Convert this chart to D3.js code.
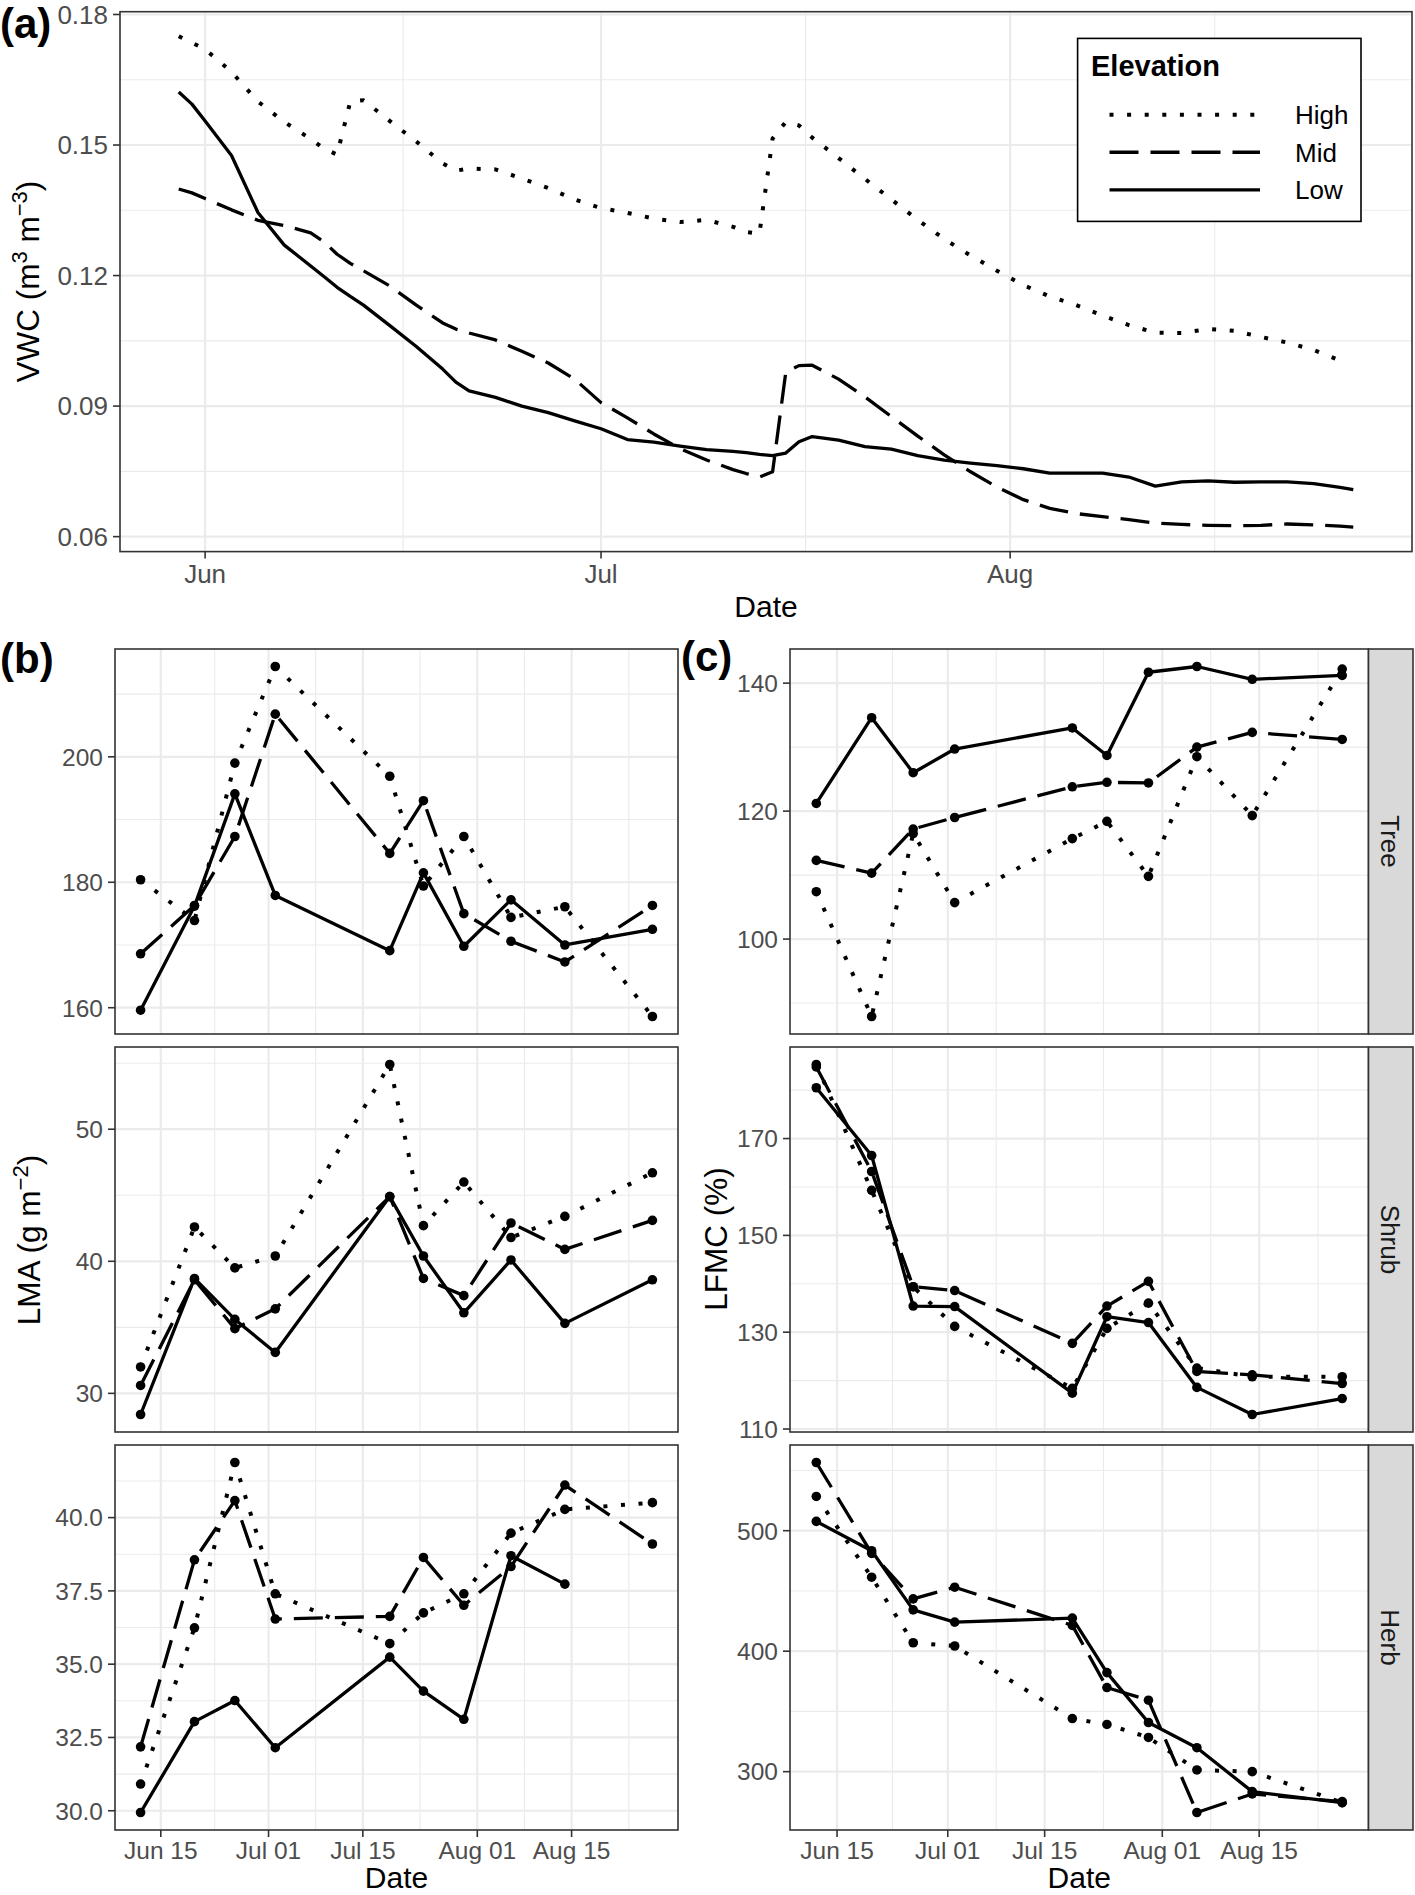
<!DOCTYPE html>
<html>
<head>
<meta charset="utf-8">
<script src="https://cdn.jsdelivr.net/npm/d3@7"></script>
<style>
  body { margin: 0; background: #fff; }
  text { font-family: "Liberation Sans", Arial, Helvetica, sans-serif; }
</style>
</head>
<body>
<svg id="chart"></svg>
<script>
// ---- data: (a) soil volumetric water content, days counted from vwcStart
var vwcStart = "2019-06-01";
var vwcDay = [-2,-1,0,2,4,6,8,9,10,11,12,14,16,18,19,20,22,24,26,28,30,32,34,36,38,40,41,42,43,44,45,46,
              48,50,52,54,56,58,60,62,64,66,68,70,72,74,76,78,80,82,84,86,87];
var vwcHigh = [0.1750,0.1735,0.1720,0.1668,0.1600,0.1553,0.1514,0.1492,0.1478,0.1600,0.1603,
               0.1555,0.1508,0.1458,0.1441,0.1446,
               0.1444,0.1423,0.1401,0.1375,0.1355,0.1344,0.1331,0.1323,0.1328,0.1312,
               0.1300,0.1296,0.1515,0.1553,0.1545,0.1517,
               0.1470,0.1422,0.1375,0.1328,0.1284,0.1246,0.1211,
               0.1178,0.1152,0.1132,0.1108,0.1086,0.1069,0.1068,0.1077,0.1073,0.1059,0.1046,0.1029,0.1005,
               null];
var vwcMid = [0.1399,0.1390,0.1377,0.1351,0.1327,0.1315,0.1298,0.1278,0.1249,0.1228,0.1211,
              0.1176,0.1132,0.1091,0.1077,0.1068,
              0.1052,0.1026,0.0999,0.0962,0.0908,0.0873,0.0836,0.0802,0.0776,0.0754,
              0.0745,0.0737,0.0749,0.0978,0.0993,0.0994,
              0.0962,0.0921,0.0876,0.0831,0.0788,0.0749,0.0714,
              0.0685,0.0665,0.0653,0.0646,0.0639,0.0631,0.0628,0.0626,0.0625,0.0626,0.0629,0.0627,0.0624,
              0.0622];
var vwcLow = [0.1622,0.1594,0.1555,0.1476,0.1345,0.1270,0.1222,0.1198,0.1173,0.1152,0.1132,
              0.1085,0.1037,0.0985,0.0955,0.0935,
              0.0920,0.0900,0.0885,0.0866,0.0848,0.0823,0.0817,0.0808,0.0800,0.0796,
              0.0793,0.0789,0.0786,0.0792,0.0818,0.0830,
              0.0822,0.0807,0.0801,0.0786,0.0776,0.0769,0.0763,
              0.0756,0.0746,0.0746,0.0746,0.0737,0.0716,0.0726,0.0728,0.0725,0.0726,0.0726,0.0722,0.0713,
              0.0708];
var vwcTicks = [0.06, 0.09, 0.12, 0.15, 0.18];
var monthBreaks = ["2019-05-01","2019-06-01","2019-07-01","2019-08-01","2019-09-01"];

// ---- data: (b) LMA and (c) LFMC, sampled on these dates
var sampleDates = ["2019-06-12","2019-06-20","2019-06-26","2019-07-02","2019-07-19",
                   "2019-07-24","2019-07-30","2019-08-06","2019-08-14","2019-08-27"];
var dateBreaks = ["2019-06-01","2019-06-15","2019-07-01","2019-07-15","2019-08-01","2019-08-15","2019-09-01"];
var elevations = ["High", "Mid", "Low"];
var facets = ["Tree", "Shrub", "Herb"];

var lmaTreeHigh = [180.4,173.9,199.0,214.4,196.9,179.4,187.3,174.4,176.1,158.6];
var lmaTreeMid  = [168.6,176.3,187.3,206.8,184.6,193.0,175.0,170.6,167.3,176.3];
var lmaTreeLow  = [159.6,176.2,194.1,177.9,169.1,181.5,169.8,177.2,170.0,172.5];
var lmaShrubHigh = [32.0,42.6,39.5,40.4,54.9,42.7,46.0,41.8,43.4,46.7];
var lmaShrubMid  = [30.6,38.6,34.9,36.4,44.9,38.7,37.4,42.9,40.9,43.1];
var lmaShrubLow  = [28.4,38.7,35.6,33.1,44.9,40.4,36.1,40.1,35.3,38.6];
var lmaHerbHigh = [30.91,36.24,41.88,37.40,35.70,36.75,37.40,39.47,40.28,40.51];
var lmaHerbMid  = [32.18,38.56,40.58,36.54,36.63,38.64,37.01,38.33,41.11,39.10];
var lmaHerbLow  = [29.94,33.04,33.76,32.15,35.24,34.08,33.12,38.70,37.73,null];
var lmaTicks = { Tree: [160,180,200], Shrub: [30,40,50], Herb: [30,32.5,35,37.5,40] };

var lfmcTreeHigh = [107.4,87.9,116.5,105.7,115.7,118.4,109.8,128.5,119.3,142.2];
var lfmcTreeMid  = [112.3,110.3,117.2,119.0,123.8,124.5,124.4,130.0,132.3,131.2];
var lfmcTreeLow  = [121.2,134.6,126.0,129.7,133.0,128.7,141.7,142.6,140.6,141.2];
var lfmcShrubHigh = [185.3,159.3,139.4,131.2,118.4,130.8,136.0,122.6,120.8,120.8];
var lfmcShrubMid  = [184.8,163.2,139.4,138.6,127.7,135.4,140.5,121.9,121.2,119.4];
var lfmcShrubLow  = [180.5,166.5,135.4,135.3,117.4,133.2,132.0,118.6,113.0,116.3];
var lfmcHerbHigh = [528.4,461.4,407.0,404.3,344.1,339.2,328.4,301.4,300.0,274.3];
var lfmcHerbMid  = [556.6,481.2,443.4,453.1,421.4,369.8,359.3,266.1,281.5,275.2];
var lfmcHerbLow  = [507.7,483.4,434.3,424.1,427.4,382.2,340.8,319.9,283.4,274.3];
var lfmcTicks = { Tree: [100,120,140], Shrub: [110,130,150,170], Herb: [300,400,500] };

// ---- styles
var lineStyle = {
  High: { dash: "4,13.6", width: 4 },
  Mid:  { dash: "29,12", width: 3.3 },
  Low:  { dash: null, width: 3.3 }
};
var gridCol = "#ebebeb", frameCol = "#333333", tickTextCol = "#4d4d4d";

var W = 1415, H = 1895;
var svg = d3.select("#chart").attr("width", W).attr("height", H);
svg.append("rect").attr("width", W).attr("height", H).attr("fill", "#fff");

var parseDate = d3.timeParse("%Y-%m-%d");

//5% expansion on each side, like ggplot does
function padDomain(lo, hi) {
  var p = (hi - lo) * 0.05;
  return [lo - p, hi + p];
}

function inDomain(scale, v) {
  var d = scale.domain();
  return +v >= +d[0] && +v <= +d[1];
}

//Midpoints between majors, one extra step on each side.
function numMinors(majors) {
  var step = majors[1] - majors[0];
  var out = [];
  for (var i = -1; i < majors.length; i++) out.push(majors[0] + (i + 0.5) * step);
  return out;
}

function dateMinors(breaks) {
  var out = [];
  for (var i = 0; i < breaks.length - 1; i++) out.push(new Date((+breaks[i] + +breaks[i + 1]) / 2));
  return out;
}

function drawGrid(box, x, y, xMaj, xMin, yMaj, yMin) {
  var g = svg.append("g");
  g.append("rect").attr("x", box.left).attr("y", box.top)
    .attr("width", box.right - box.left).attr("height", box.bottom - box.top).attr("fill", "#fff");
  xMin.filter(function(v) { return inDomain(x, v); }).forEach(function(v) {
    g.append("line").attr("x1", x(v)).attr("x2", x(v)).attr("y1", box.top).attr("y2", box.bottom)
      .attr("stroke", gridCol).attr("stroke-width", 1.1);
  });
  yMin.filter(function(v) { return inDomain(y, v); }).forEach(function(v) {
    g.append("line").attr("x1", box.left).attr("x2", box.right).attr("y1", y(v)).attr("y2", y(v))
      .attr("stroke", gridCol).attr("stroke-width", 1.1);
  });
  xMaj.filter(function(v) { return inDomain(x, v); }).forEach(function(v) {
    g.append("line").attr("x1", x(v)).attr("x2", x(v)).attr("y1", box.top).attr("y2", box.bottom)
      .attr("stroke", gridCol).attr("stroke-width", 2.2);
  });
  yMaj.filter(function(v) { return inDomain(y, v); }).forEach(function(v) {
    g.append("line").attr("x1", box.left).attr("x2", box.right).attr("y1", y(v)).attr("y2", y(v))
      .attr("stroke", gridCol).attr("stroke-width", 2.2);
  });
  return g;
}

function drawFrame(box) {
  svg.append("rect").attr("x", box.left).attr("y", box.top)
    .attr("width", box.right - box.left).attr("height", box.bottom - box.top)
    .attr("fill", "none").attr("stroke", frameCol).attr("stroke-width", 1.6);
}

function drawYAxis(box, y, ticks, fmt, size) {
  ticks.filter(function(v) { return inDomain(y, v); }).forEach(function(v) {
    svg.append("line").attr("x1", box.left - 7).attr("x2", box.left).attr("y1", y(v)).attr("y2", y(v))
      .attr("stroke", frameCol).attr("stroke-width", 1.6);
    svg.append("text").attr("x", box.left - 12).attr("y", y(v)).attr("dy", "0.36em")
      .attr("text-anchor", "end").attr("font-size", size).attr("fill", tickTextCol).text(fmt(v));
  });
}

function drawXAxis(box, x, ticks, fmt, size, gap) {
  ticks.filter(function(v) { return inDomain(x, v); }).forEach(function(v) {
    svg.append("line").attr("x1", x(v)).attr("x2", x(v)).attr("y1", box.bottom).attr("y2", box.bottom + 7)
      .attr("stroke", frameCol).attr("stroke-width", 1.6);
    svg.append("text").attr("x", x(v)).attr("y", box.bottom + gap)
      .attr("text-anchor", "middle").attr("font-size", size).attr("fill", tickTextCol).text(fmt(v));
  });
}

function drawSeries(g, x, y, dates, values, name, withPoints) {
  var pts = dates.map(function(d, i) { return { d: d, v: values[i] }; });
  var st = lineStyle[name];
  var line = d3.line().defined(function(p) { return p.v != null; })
    .x(function(p) { return x(p.d); }).y(function(p) { return y(p.v); });
  g.append("path").datum(pts).attr("d", line).attr("fill", "none").attr("stroke", "#000")
    .attr("stroke-width", st.width).attr("stroke-dasharray", st.dash)
    .attr("stroke-linejoin", "round");
  if (withPoints) {
    g.selectAll(null).data(pts.filter(function(p) { return p.v != null; })).enter()
      .append("circle").attr("cx", function(p) { return x(p.d); }).attr("cy", function(p) { return y(p.v); })
      .attr("r", 4.8).attr("fill", "#000");
  }
}

//Axis title with plotmath-like superscripts: parts = [[text, isSup], ...]
function axisTitle(tx, ty, rot, parts) {
  var t = svg.append("text").attr("transform", "translate(" + tx + "," + ty + ") rotate(" + rot + ")")
    .attr("text-anchor", "middle").attr("font-size", 31.5).attr("fill", "#000");
  var up = false;
  parts.forEach(function(p) {
    var s = t.append("tspan").text(p[0]);
    if (p[1] && !up) { s.attr("font-size", 22).attr("dy", -12); up = true; }
    else if (!p[1] && up) { s.attr("dy", 12); up = false; }
  });
}

function panelLabel(x, y, s) {
  svg.append("text").attr("x", x).attr("y", y).attr("font-size", 42).attr("font-weight", "bold")
    .attr("fill", "#000").text(s);
}

// ================= (a) VWC =================
var start = parseDate(vwcStart);
var vwcDates = vwcDay.map(function(d) { return d3.timeDay.offset(start, d); });
var boxA = { left: 120, right: 1412, top: 11.7, bottom: 551.6 };
var xA0 = vwcDates[0], xA1 = vwcDates[vwcDates.length - 1];
var xAdom = padDomain(+xA0, +xA1);
var xA = d3.scaleTime().domain([new Date(xAdom[0]), new Date(xAdom[1])]).range([boxA.left, boxA.right]);
var allVwc = vwcHigh.concat(vwcMid, vwcLow).filter(function(v) { return v != null; });
var yA = d3.scaleLinear().domain(padDomain(d3.min(allVwc), d3.max(allVwc))).range([boxA.bottom, boxA.top]);

var monthDates = monthBreaks.map(parseDate);
var gA = drawGrid(boxA, xA, yA, monthDates, dateMinors(monthDates), vwcTicks, numMinors(vwcTicks));
var vwcSeries = { High: vwcHigh, Mid: vwcMid, Low: vwcLow };
elevations.forEach(function(e) { drawSeries(gA, xA, yA, vwcDates, vwcSeries[e], e, false); });
drawFrame(boxA);
drawYAxis(boxA, yA, vwcTicks, d3.format(".2f"), 26);
drawXAxis(boxA, xA, monthDates, d3.timeFormat("%b"), 26, 31);
axisTitle(39, (boxA.top + boxA.bottom) / 2, -90,
  [["VWC (m", false], ["3", true], [" m", false], ["\u22123", true], [")", false]]);
svg.append("text").attr("x", (boxA.left + boxA.right) / 2).attr("y", 617).attr("text-anchor", "middle")
  .attr("font-size", 30).text("Date");

// legend
var leg = svg.append("g");
leg.append("rect").attr("x", 1077.6).attr("y", 38.4).attr("width", 283.4).attr("height", 183)
  .attr("fill", "#fff").attr("stroke", "#000").attr("stroke-width", 1.6);
leg.append("text").attr("x", 1091).attr("y", 76).attr("font-size", 29).attr("font-weight", "bold").text("Elevation");
var legY = d3.scalePoint().domain(elevations).range([114.7, 189.8]);
elevations.forEach(function(e) {
  var st = lineStyle[e];
  leg.append("line").attr("x1", 1109.5).attr("x2", 1260).attr("y1", legY(e)).attr("y2", legY(e))
    .attr("stroke", "#000").attr("stroke-width", st.width).attr("stroke-dasharray", st.dash);
  leg.append("text").attr("x", 1295).attr("y", legY(e) + 9.4).attr("font-size", 26).text(e);
});

panelLabel(0, 38, "(a)");

// ================= (b) LMA and (c) LFMC =================
var sDates = sampleDates.map(parseDate);
var brk = dateBreaks.map(parseDate);
var brkMinor = dateMinors(brk);
var sdom = padDomain(+sDates[0], +sDates[sDates.length - 1]);
var panelTops = [649, 1047, 1445];
var panelH = 385;

var lma = {
  Tree: { High: lmaTreeHigh, Mid: lmaTreeMid, Low: lmaTreeLow },
  Shrub: { High: lmaShrubHigh, Mid: lmaShrubMid, Low: lmaShrubLow },
  Herb: { High: lmaHerbHigh, Mid: lmaHerbMid, Low: lmaHerbLow }
};
var lfmc = {
  Tree: { High: lfmcTreeHigh, Mid: lfmcTreeMid, Low: lfmcTreeLow },
  Shrub: { High: lfmcShrubHigh, Mid: lfmcShrubMid, Low: lfmcShrubLow },
  Herb: { High: lfmcHerbHigh, Mid: lfmcHerbMid, Low: lfmcHerbLow }
};

function facetColumn(left, right, data, ticks, fmts, strips) {
  var x = d3.scaleTime().domain([new Date(sdom[0]), new Date(sdom[1])]).range([left, right]);
  facets.forEach(function(f, i) {
    var box = { left: left, right: right, top: panelTops[i], bottom: panelTops[i] + panelH };
    var all = elevations.reduce(function(a, e) { return a.concat(data[f][e]); }, [])
      .filter(function(v) { return v != null; });
    var y = d3.scaleLinear().domain(padDomain(d3.min(all), d3.max(all))).range([box.bottom, box.top]);
    var g = drawGrid(box, x, y, brk, brkMinor, ticks[f], numMinors(ticks[f]));
    elevations.forEach(function(e) { drawSeries(g, x, y, sDates, data[f][e], e, true); });
    drawFrame(box);
    drawYAxis(box, y, ticks[f], fmts[f], 24.5);
    if (i === facets.length - 1) drawXAxis(box, x, brk, d3.timeFormat("%b %d"), 24.5, 29);
    if (strips) {
      svg.append("rect").attr("x", right).attr("y", box.top).attr("width", 44.5).attr("height", panelH)
        .attr("fill", "#d9d9d9").attr("stroke", frameCol).attr("stroke-width", 1.6);
      svg.append("text").attr("transform", "translate(" + (right + 22.25) + "," + ((box.top + box.bottom) / 2) + ") rotate(90)")
        .attr("text-anchor", "middle").attr("dy", "0.36em").attr("font-size", 26).attr("fill", "#1a1a1a").text(f);
    }
  });
  svg.append("text").attr("x", (left + right) / 2).attr("y", 1888).attr("text-anchor", "middle")
    .attr("font-size", 30).text("Date");
}

var intFmt = d3.format("d");
facetColumn(115, 678, lma, lmaTicks, { Tree: intFmt, Shrub: intFmt, Herb: d3.format(".1f") }, false);
facetColumn(790, 1368.5, lfmc, lfmcTicks, { Tree: intFmt, Shrub: intFmt, Herb: intFmt }, true);

axisTitle(40, 1240, -90, [["LMA (g m", false], ["\u22122", true], [")", false]]);
axisTitle(727, 1239, -90, [["LFMC (%)", false]]);

panelLabel(0, 673, "(b)");
panelLabel(681, 671, "(c)");
</script>
</body>
</html>
